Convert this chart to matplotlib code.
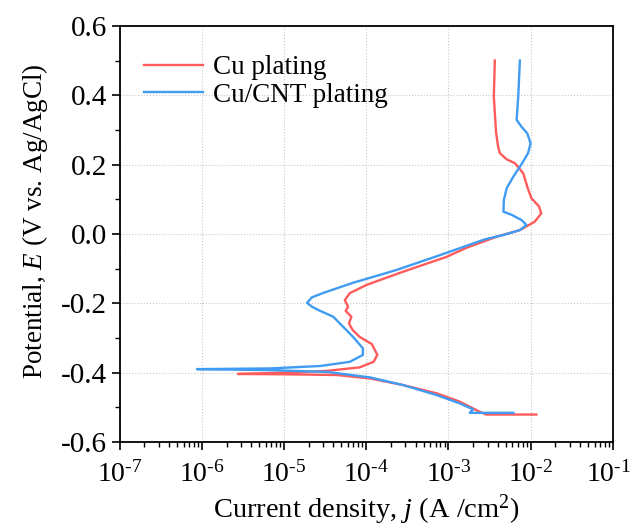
import numpy as np
import matplotlib
matplotlib.use("Agg")
import matplotlib.pyplot as plt
import matplotlib.transforms as mtransforms
from matplotlib.ticker import LogLocator, FuncFormatter, MultipleLocator, FormatStrFormatter

plt.rcParams["font.family"] = ["Liberation Serif", "DejaVu Serif"]
plt.rcParams["mathtext.fontset"] = "custom"
plt.rcParams["mathtext.rm"] = "Liberation Serif"
plt.rcParams["mathtext.it"] = "Liberation Serif:italic"
plt.rcParams["axes.unicode_minus"] = False

# Cu plating: log10 of current density and potential
cu_logj = [-2.435, -2.447, -2.42, -2.395, -2.374, -2.29, -2.19, -2.09, -2.04, -1.99,
           -1.896, -1.87, -1.95, -2.13, -2.41, -2.78, -3.02, -3.55, -3.995, -4.20,
           -4.26, -4.22, -4.25, -4.18, -4.21, -4.165, -4.08, -3.93, -3.865, -3.91,
           -4.08, -4.48, -4.97, -5.56, -4.97, -4.36, -3.95, -3.55, -3.14, -2.86,
           -2.62, -2.54, -1.93]
cu_E = [0.500, 0.396, 0.293, 0.252, 0.233, 0.215, 0.204, 0.175, 0.136, 0.103,
        0.079, 0.059, 0.035, 0.011, -0.008, -0.040, -0.066, -0.109, -0.147, -0.171,
        -0.191, -0.210, -0.222, -0.239, -0.258, -0.277, -0.297, -0.318, -0.349, -0.369,
        -0.385, -0.395, -0.400, -0.404, -0.405, -0.407, -0.417, -0.436, -0.460, -0.484,
        -0.513, -0.521, -0.521]

# Cu/CNT plating
cnt_logj = [-2.13, -2.15, -2.17, -2.11, -2.04, -2.0, -2.03, -2.11, -2.21, -2.29,
            -2.325, -2.33, -2.23, -2.11, -2.05, -2.13, -2.33, -2.56, -3.10, -3.63,
            -4.16, -4.52, -4.66, -4.72, -4.66, -4.56, -4.40, -4.28, -4.16, -4.04,
            -4.04, -4.20, -4.56, -5.17, -6.06, -5.17, -4.48, -3.95, -3.55, -3.14,
            -2.86, -2.70, -2.74, -2.21]
cnt_E = [0.500, 0.396, 0.329, 0.309, 0.290, 0.261, 0.233, 0.201, 0.165, 0.132,
         0.098, 0.064, 0.055, 0.040, 0.026, 0.011, -0.003, -0.016, -0.061, -0.104,
         -0.141, -0.170, -0.183, -0.199, -0.210, -0.222, -0.239, -0.268, -0.297, -0.330,
         -0.349, -0.369, -0.381, -0.388, -0.390, -0.393, -0.398, -0.414, -0.436, -0.465,
         -0.489, -0.506, -0.516, -0.516]

red = "#ff5b5b"
blue = "#3f9cf2"


def pow10(x, pos):
    e = int(round(np.log10(x)))
    return r"10$^{\text{%d}}$" % e


fig = plt.figure(figsize=(6.33, 5.28), dpi=100)
ax = fig.add_axes([0.189, 0.163, 0.779, 0.788])

ax.plot(10 ** np.array(cu_logj), cu_E, color=red, lw=1.7, label="Cu plating")
ax.plot(10 ** np.array(cnt_logj), cnt_E, color=blue, lw=1.7, label="Cu/CNT plating")

ax.set_xscale("log")
ax.set_xlim(1e-7, 1e-1)
ax.set_ylim(-0.6, 0.6)
ax.xaxis.set_major_locator(LogLocator(base=10, numticks=10))
ax.xaxis.set_major_formatter(FuncFormatter(pow10))
ax.xaxis.set_minor_locator(LogLocator(base=10, subs=np.arange(2, 10), numticks=100))
ax.yaxis.set_major_locator(MultipleLocator(0.2))
ax.yaxis.set_minor_locator(MultipleLocator(0.1))
ax.yaxis.set_major_formatter(FormatStrFormatter("%.1f"))

ax.grid(True, which="major", ls=":", color="#c8c8c8", lw=0.8)
for s in ax.spines.values():
    s.set_linewidth(1.3)
ax.tick_params(which="major", direction="out", length=6, width=1.2, labelsize=21)
ax.tick_params(which="minor", direction="out", length=3.5, width=1.0)
ax.tick_params(axis="x", which="major", pad=8, labelsize=20)
ax.tick_params(axis="y", which="major", pad=3)

ax.set_xlabel("Current density, $j$ (A /cm$^2$)", fontsize=20.5, labelpad=3)
ax.set_ylabel("Potential, $E$ (V vs. Ag/AgCl)", fontsize=19.5)
ax.yaxis.set_label_coords(-0.141, 0.531)

ax.legend(loc="upper left", bbox_to_anchor=(0.01, 0.975), frameon=False, fontsize=19.5,
          handlelength=2.2, handletextpad=0.35, labelspacing=0.1, borderaxespad=0.3)

# keep the last decade label inside the canvas
fig.canvas.draw()
last = [t for t in ax.xaxis.get_major_ticks() if abs(np.log10(t.get_loc()) + 1) < 1e-6]
for t in last:
    t.label1.set_transform(t.label1.get_transform()
                           + mtransforms.ScaledTranslation(-4 / 100, 0, fig.dpi_scale_trans))

fig.savefig("out.png", dpi=100)
